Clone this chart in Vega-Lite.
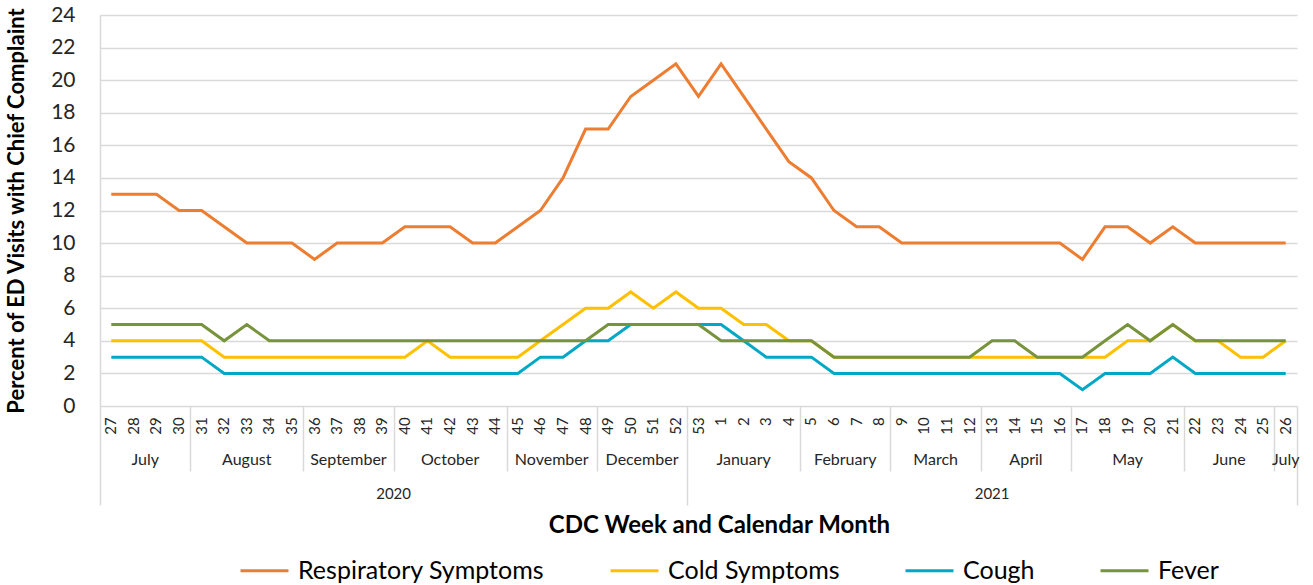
{
  "$schema": "https://vega.github.io/schema/vega-lite/v6.json",
  "padding": {"left": 5, "top": 4, "right": 15, "bottom": 5},
  "bounds": "flush",
  "spacing": 0,
  "background": "white",
  "config": {
    "view": {"stroke": null},
    "font": "Lato",
    "text": {"font": "Lato", "color": "#262626"}
  },
  "resolve": {"scale": {"x": "shared"}},
  "datasets": {
    "weeks": [
      {"n": 1, "week": "27", "month": "July", "year": "2020", "Respiratory Symptoms": 13, "Cold Symptoms": 4, "Cough": 3, "Fever": 5},
      {"n": 2, "week": "28", "month": "July", "year": "2020", "Respiratory Symptoms": 13, "Cold Symptoms": 4, "Cough": 3, "Fever": 5},
      {"n": 3, "week": "29", "month": "July", "year": "2020", "Respiratory Symptoms": 13, "Cold Symptoms": 4, "Cough": 3, "Fever": 5},
      {"n": 4, "week": "30", "month": "July", "year": "2020", "Respiratory Symptoms": 12, "Cold Symptoms": 4, "Cough": 3, "Fever": 5},
      {"n": 5, "week": "31", "month": "August", "year": "2020", "Respiratory Symptoms": 12, "Cold Symptoms": 4, "Cough": 3, "Fever": 5},
      {"n": 6, "week": "32", "month": "August", "year": "2020", "Respiratory Symptoms": 11, "Cold Symptoms": 3, "Cough": 2, "Fever": 4},
      {"n": 7, "week": "33", "month": "August", "year": "2020", "Respiratory Symptoms": 10, "Cold Symptoms": 3, "Cough": 2, "Fever": 5},
      {"n": 8, "week": "34", "month": "August", "year": "2020", "Respiratory Symptoms": 10, "Cold Symptoms": 3, "Cough": 2, "Fever": 4},
      {"n": 9, "week": "35", "month": "August", "year": "2020", "Respiratory Symptoms": 10, "Cold Symptoms": 3, "Cough": 2, "Fever": 4},
      {"n": 10, "week": "36", "month": "September", "year": "2020", "Respiratory Symptoms": 9, "Cold Symptoms": 3, "Cough": 2, "Fever": 4},
      {"n": 11, "week": "37", "month": "September", "year": "2020", "Respiratory Symptoms": 10, "Cold Symptoms": 3, "Cough": 2, "Fever": 4},
      {"n": 12, "week": "38", "month": "September", "year": "2020", "Respiratory Symptoms": 10, "Cold Symptoms": 3, "Cough": 2, "Fever": 4},
      {"n": 13, "week": "39", "month": "September", "year": "2020", "Respiratory Symptoms": 10, "Cold Symptoms": 3, "Cough": 2, "Fever": 4},
      {"n": 14, "week": "40", "month": "October", "year": "2020", "Respiratory Symptoms": 11, "Cold Symptoms": 3, "Cough": 2, "Fever": 4},
      {"n": 15, "week": "41", "month": "October", "year": "2020", "Respiratory Symptoms": 11, "Cold Symptoms": 4, "Cough": 2, "Fever": 4},
      {"n": 16, "week": "42", "month": "October", "year": "2020", "Respiratory Symptoms": 11, "Cold Symptoms": 3, "Cough": 2, "Fever": 4},
      {"n": 17, "week": "43", "month": "October", "year": "2020", "Respiratory Symptoms": 10, "Cold Symptoms": 3, "Cough": 2, "Fever": 4},
      {"n": 18, "week": "44", "month": "October", "year": "2020", "Respiratory Symptoms": 10, "Cold Symptoms": 3, "Cough": 2, "Fever": 4},
      {"n": 19, "week": "45", "month": "November", "year": "2020", "Respiratory Symptoms": 11, "Cold Symptoms": 3, "Cough": 2, "Fever": 4},
      {"n": 20, "week": "46", "month": "November", "year": "2020", "Respiratory Symptoms": 12, "Cold Symptoms": 4, "Cough": 3, "Fever": 4},
      {"n": 21, "week": "47", "month": "November", "year": "2020", "Respiratory Symptoms": 14, "Cold Symptoms": 5, "Cough": 3, "Fever": 4},
      {"n": 22, "week": "48", "month": "November", "year": "2020", "Respiratory Symptoms": 17, "Cold Symptoms": 6, "Cough": 4, "Fever": 4},
      {"n": 23, "week": "49", "month": "December", "year": "2020", "Respiratory Symptoms": 17, "Cold Symptoms": 6, "Cough": 4, "Fever": 5},
      {"n": 24, "week": "50", "month": "December", "year": "2020", "Respiratory Symptoms": 19, "Cold Symptoms": 7, "Cough": 5, "Fever": 5},
      {"n": 25, "week": "51", "month": "December", "year": "2020", "Respiratory Symptoms": 20, "Cold Symptoms": 6, "Cough": 5, "Fever": 5},
      {"n": 26, "week": "52", "month": "December", "year": "2020", "Respiratory Symptoms": 21, "Cold Symptoms": 7, "Cough": 5, "Fever": 5},
      {"n": 27, "week": "53", "month": "January", "year": "2021", "Respiratory Symptoms": 19, "Cold Symptoms": 6, "Cough": 5, "Fever": 5},
      {"n": 28, "week": "1", "month": "January", "year": "2021", "Respiratory Symptoms": 21, "Cold Symptoms": 6, "Cough": 5, "Fever": 4},
      {"n": 29, "week": "2", "month": "January", "year": "2021", "Respiratory Symptoms": 19, "Cold Symptoms": 5, "Cough": 4, "Fever": 4},
      {"n": 30, "week": "3", "month": "January", "year": "2021", "Respiratory Symptoms": 17, "Cold Symptoms": 5, "Cough": 3, "Fever": 4},
      {"n": 31, "week": "4", "month": "January", "year": "2021", "Respiratory Symptoms": 15, "Cold Symptoms": 4, "Cough": 3, "Fever": 4},
      {"n": 32, "week": "5", "month": "February", "year": "2021", "Respiratory Symptoms": 14, "Cold Symptoms": 4, "Cough": 3, "Fever": 4},
      {"n": 33, "week": "6", "month": "February", "year": "2021", "Respiratory Symptoms": 12, "Cold Symptoms": 3, "Cough": 2, "Fever": 3},
      {"n": 34, "week": "7", "month": "February", "year": "2021", "Respiratory Symptoms": 11, "Cold Symptoms": 3, "Cough": 2, "Fever": 3},
      {"n": 35, "week": "8", "month": "February", "year": "2021", "Respiratory Symptoms": 11, "Cold Symptoms": 3, "Cough": 2, "Fever": 3},
      {"n": 36, "week": "9", "month": "March", "year": "2021", "Respiratory Symptoms": 10, "Cold Symptoms": 3, "Cough": 2, "Fever": 3},
      {"n": 37, "week": "10", "month": "March", "year": "2021", "Respiratory Symptoms": 10, "Cold Symptoms": 3, "Cough": 2, "Fever": 3},
      {"n": 38, "week": "11", "month": "March", "year": "2021", "Respiratory Symptoms": 10, "Cold Symptoms": 3, "Cough": 2, "Fever": 3},
      {"n": 39, "week": "12", "month": "March", "year": "2021", "Respiratory Symptoms": 10, "Cold Symptoms": 3, "Cough": 2, "Fever": 3},
      {"n": 40, "week": "13", "month": "April", "year": "2021", "Respiratory Symptoms": 10, "Cold Symptoms": 3, "Cough": 2, "Fever": 4},
      {"n": 41, "week": "14", "month": "April", "year": "2021", "Respiratory Symptoms": 10, "Cold Symptoms": 3, "Cough": 2, "Fever": 4},
      {"n": 42, "week": "15", "month": "April", "year": "2021", "Respiratory Symptoms": 10, "Cold Symptoms": 3, "Cough": 2, "Fever": 3},
      {"n": 43, "week": "16", "month": "April", "year": "2021", "Respiratory Symptoms": 10, "Cold Symptoms": 3, "Cough": 2, "Fever": 3},
      {"n": 44, "week": "17", "month": "May", "year": "2021", "Respiratory Symptoms": 9, "Cold Symptoms": 3, "Cough": 1, "Fever": 3},
      {"n": 45, "week": "18", "month": "May", "year": "2021", "Respiratory Symptoms": 11, "Cold Symptoms": 3, "Cough": 2, "Fever": 4},
      {"n": 46, "week": "19", "month": "May", "year": "2021", "Respiratory Symptoms": 11, "Cold Symptoms": 4, "Cough": 2, "Fever": 5},
      {"n": 47, "week": "20", "month": "May", "year": "2021", "Respiratory Symptoms": 10, "Cold Symptoms": 4, "Cough": 2, "Fever": 4},
      {"n": 48, "week": "21", "month": "May", "year": "2021", "Respiratory Symptoms": 11, "Cold Symptoms": 5, "Cough": 3, "Fever": 5},
      {"n": 49, "week": "22", "month": "June", "year": "2021", "Respiratory Symptoms": 10, "Cold Symptoms": 4, "Cough": 2, "Fever": 4},
      {"n": 50, "week": "23", "month": "June", "year": "2021", "Respiratory Symptoms": 10, "Cold Symptoms": 4, "Cough": 2, "Fever": 4},
      {"n": 51, "week": "24", "month": "June", "year": "2021", "Respiratory Symptoms": 10, "Cold Symptoms": 3, "Cough": 2, "Fever": 4},
      {"n": 52, "week": "25", "month": "June", "year": "2021", "Respiratory Symptoms": 10, "Cold Symptoms": 3, "Cough": 2, "Fever": 4},
      {"n": 53, "week": "26", "month": "July", "year": "2021", "Respiratory Symptoms": 10, "Cold Symptoms": 4, "Cough": 2, "Fever": 4}
    ]
  },
  "vconcat": [
    {
      "width": 1197,
      "height": 391,
      "data": {"name": "weeks"},
      "transform": [
        {"fold": ["Respiratory Symptoms", "Cold Symptoms", "Cough", "Fever"], "as": ["series", "value"]}
      ],
      "mark": {"type": "line", "strokeWidth": 3, "strokeJoin": "miter"},
      "encoding": {
        "x": {
          "field": "n",
          "type": "quantitative",
          "scale": {"domain": [0.5, 53.5], "nice": false, "zero": false},
          "axis": {
            "orient": "bottom",
            "values": [0.5, 26.5, 53.5],
            "labels": false,
            "domain": false,
            "grid": false,
            "ticks": true,
            "tickSize": 99,
            "tickColor": "#d9d9d9",
            "tickWidth": 1.5,
            "title": null
          }
        },
        "y": {
          "field": "value",
          "type": "quantitative",
          "scale": {"domain": [0, 24], "nice": false},
          "axis": {
            "values": [0, 2, 4, 6, 8, 10, 12, 14, 16, 18, 20, 22, 24],
            "title": "Percent of ED Visits with Chief Complaint",
            "titleFontSize": 22,
            "titleFontWeight": "bold",
            "titleColor": "#000000",
            "titleFont": "Lato",
            "titlePadding": 22,
            "labelFontSize": 21,
            "labelColor": "#262626",
            "labelFont": "Lato",
            "ticks": false,
            "labelPadding": 25,
            "domain": true,
            "domainColor": "#d9d9d9",
            "domainWidth": 1.5,
            "grid": true,
            "gridColor": "#d9d9d9",
            "gridWidth": 1.5
          }
        },
        "color": {
          "field": "series",
          "type": "nominal",
          "scale": {
            "domain": ["Respiratory Symptoms", "Cold Symptoms", "Cough", "Fever"],
            "range": ["#ED7D31", "#FFC000", "#00A8C6", "#77933C"]
          },
          "legend": {
            "orient": "none",
            "legendX": 139,
            "legendY": 530,
            "direction": "horizontal",
            "title": null,
            "labelFontSize": 25,
            "labelFont": "Lato",
            "labelColor": "#000000",
            "labelLimit": 0,
            "symbolType": "stroke",
            "symbolStrokeWidth": 3,
            "symbolSize": 2300,
            "labelOffset": 8,
            "columnPadding": 59
          }
        }
      }
    },
    {
      "width": 1197,
      "height": 102,
      "data": {"name": "weeks"},
      "title": {
        "text": "CDC Week and Calendar Month",
        "orient": "bottom",
        "anchor": "middle",
        "fontSize": 24,
        "fontWeight": "bold",
        "font": "Lato",
        "color": "#000000",
        "offset": 6,
        "dx": 21
      },
      "layer": [
        {
          "mark": {"type": "text", "angle": 270, "align": "right", "baseline": "middle", "fontSize": 15},
          "encoding": {
            "x": {
              "field": "n",
              "type": "quantitative",
              "scale": {"domain": [0.5, 53.5], "nice": false, "zero": false},
              "axis": {
                "orient": "top",
                "values": [4.5, 9.5, 13.5, 18.5, 22.5, 31.5, 35.5, 39.5, 43.5, 48.5, 52.5],
                "labels": false,
                "domain": false,
                "grid": false,
                "ticks": true,
                "tickSize": -65,
                "tickColor": "#d9d9d9",
                "tickWidth": 1.5,
                "title": null
              }
            },
            "y": {
              "datum": "week",
              "type": "nominal",
              "bandPosition": 0.33,
              "scale": {"type": "band", "domain": ["week", "month", "year"], "paddingInner": 0, "paddingOuter": 0},
              "axis": null
            },
            "text": {"field": "week"}
          }
        },
        {
          "transform": [
            {"aggregate": [{"op": "mean", "field": "n", "as": "n"}], "groupby": ["month", "year"]}
          ],
          "mark": {"type": "text", "fontSize": 16, "baseline": "middle"},
          "encoding": {
            "x": {
              "field": "n",
              "type": "quantitative",
              "scale": {"domain": [0.5, 53.5], "nice": false, "zero": false},
              "axis": {
                "orient": "top",
                "values": [4.5, 9.5, 13.5, 18.5, 22.5, 31.5, 35.5, 39.5, 43.5, 48.5, 52.5],
                "labels": false,
                "domain": false,
                "grid": false,
                "ticks": true,
                "tickSize": -65,
                "tickColor": "#d9d9d9",
                "tickWidth": 1.5,
                "title": null
              }
            },
            "y": {
              "datum": "month",
              "type": "nominal",
              "bandPosition": 0.6,
              "scale": {"type": "band", "domain": ["week", "month", "year"], "paddingInner": 0, "paddingOuter": 0},
              "axis": null
            },
            "text": {"field": "month"}
          }
        },
        {
          "transform": [
            {"aggregate": [{"op": "mean", "field": "n", "as": "n"}], "groupby": ["year"]}
          ],
          "mark": {"type": "text", "fontSize": 15, "baseline": "middle"},
          "encoding": {
            "x": {
              "field": "n",
              "type": "quantitative",
              "scale": {"domain": [0.5, 53.5], "nice": false, "zero": false},
              "axis": {
                "orient": "top",
                "values": [4.5, 9.5, 13.5, 18.5, 22.5, 31.5, 35.5, 39.5, 43.5, 48.5, 52.5],
                "labels": false,
                "domain": false,
                "grid": false,
                "ticks": true,
                "tickSize": -65,
                "tickColor": "#d9d9d9",
                "tickWidth": 1.5,
                "title": null
              }
            },
            "y": {
              "datum": "year",
              "type": "nominal",
              "bandPosition": 0.6,
              "scale": {"type": "band", "domain": ["week", "month", "year"], "paddingInner": 0, "paddingOuter": 0},
              "axis": null
            },
            "text": {"field": "year"}
          }
        }
      ]
    }
  ]
}
